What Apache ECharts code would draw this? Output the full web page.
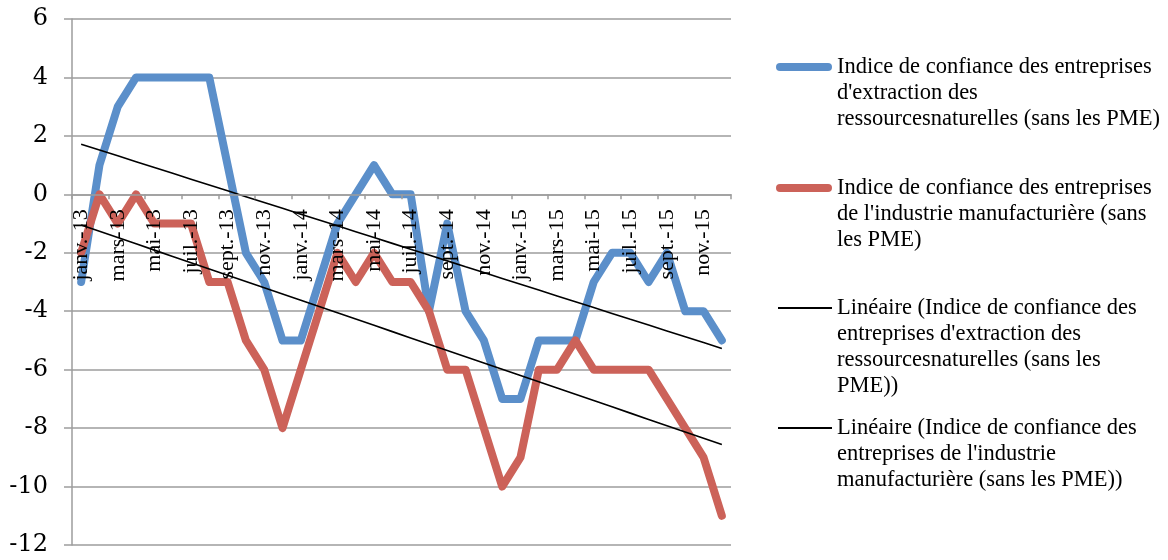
<!DOCTYPE html>
<html>
<head>
<meta charset="utf-8">
<script src="https://cdn.jsdelivr.net/npm/echarts@6/dist/echarts.min.js"></script>
<style>
  html, body { margin: 0; padding: 0; background: #fff; }
  #chart { width: 1168px; height: 560px; }
</style>
</head>
<body>
<div id="chart"></div>
<script>
const categories = [
  'janv.-13','févr.-13','mars-13','avr.-13','mai-13','juin-13','juil.-13','août-13','sept.-13','oct.-13','nov.-13','déc.-13',
  'janv.-14','févr.-14','mars-14','avr.-14','mai-14','juin-14','juil.-14','août-14','sept.-14','oct.-14','nov.-14','déc.-14',
  'janv.-15','févr.-15','mars-15','avr.-15','mai-15','juin-15','juil.-15','août-15','sept.-15','oct.-15','nov.-15','déc.-15'
];
const extraction = [
  -3, 1, 3, 4, 4, 4, 4, 4, 1, -2, -3, -5,
  -5, -3, -1, 0, 1, 0, 0, -4, -1, -4, -5, -7,
  -7, -5, -5, -5, -3, -2, -2, -3, -2, -4, -4, -5
];
const manufacturiere = [
  -2, 0, -1, 0, -1, -1, -1, -3, -3, -5, -6, -8,
  -6, -4, -2, -3, -2, -3, -3, -4, -6, -6, -8, -10,
  -9, -6, -6, -5, -6, -6, -6, -6, -7, -8, -9, -11
];
const yTicks = { min: -12, max: 6, interval: 2 };

const names = [
  "Indice de confiance des entreprises d'extraction des ressourcesnaturelles (sans les PME)",
  "Indice de confiance des entreprises de l'industrie manufacturière (sans les PME)",
  "Linéaire (Indice de confiance des entreprises d'extraction des ressourcesnaturelles (sans les PME))",
  "Linéaire (Indice de confiance des entreprises de l'industrie manufacturière (sans les PME))"
];
const legendLines = [
  ["Indice de confiance des entreprises", "d'extraction des", "ressourcesnaturelles (sans les PME)"],
  ["Indice de confiance des entreprises", "de l'industrie manufacturière (sans", "les PME)"],
  ["Linéaire (Indice de confiance des", "entreprises d'extraction des", "ressourcesnaturelles (sans les", "PME))"],
  ["Linéaire (Indice de confiance des", "entreprises de l'industrie", "manufacturière (sans les PME))"]
];

// Linear (least squares) trend of a series, evaluated at each category
function linearTrend(vals) {
  const n = vals.length;
  let sx = 0, sy = 0, sxx = 0, sxy = 0;
  vals.forEach((v, i) => { sx += i; sy += v; sxx += i * i; sxy += i * v; });
  const b = (n * sxy - sx * sy) / (n * sxx - sx * sx);
  const a = (sy - b * sx) / n;
  return vals.map((_, i) => +(a + b * i).toFixed(4));
}

const BLUE = '#5B8FCA';
const RED = '#CC6259';
const FONT = '"Liberation Serif", serif';
const LH = 26;
const iconCenters = [67, 188, 308, 428];

const GRID = { left: 72, right: 437, top: 19, bottom: 15 };
const gridHeight = 560 - GRID.top - GRID.bottom;
// the category axis crosses the value axis at 0
const zeroOffset = -gridHeight * (0 - yTicks.min) / (yTicks.max - yTicks.min);

const legends = names.map((nm, k) => {
  const n = legendLines[k].length;
  const thick = k < 2;
  // leading blank lines keep the first text line level with the icon
  const blank = new Array(n - 1).fill(' ');
  return {
    show: true,
    orient: 'vertical',
    left: thick ? 776 : 778,
    top: iconCenters[k] - (2 * n - 1) * LH / 2,
    padding: 0,
    selectedMode: false,
    data: [nm],
    icon: thick ? 'path://M4,0 L52,0 A4,4 0 0 1 52,8 L4,8 A4,4 0 0 1 4,0 Z' : 'rect',
    itemWidth: thick ? 56 : 54,
    itemHeight: thick ? 8 : 2,
    formatter: () => blank.concat(legendLines[k]).join('\n'),
    textStyle: {
      fontFamily: FONT,
      fontSize: 22.5,
      color: '#000',
      lineHeight: LH
    }
  };
});

const chart = echarts.init(document.getElementById('chart'), null, { renderer: 'canvas' });
chart.setOption({
  animation: false,
  backgroundColor: '#fff',
  grid: Object.assign({ containLabel: false, outerBoundsMode: 'none' }, GRID),
  legend: legends,
  xAxis: {
    type: 'category',
    data: categories,
    boundaryGap: true,
    position: 'bottom',
    offset: zeroOffset,
    z: 10,
    axisLine: { onZero: false, lineStyle: { color: '#9d9d9d', width: 1.5 } },
    axisTick: { show: true, interval: 1, length: 5, inside: false, lineStyle: { color: '#9d9d9d', width: 1.5 } },
    axisLabel: {
      interval: 1,
      rotate: 90,
      margin: 15,
      padding: [7, 0, 0, 0],
      fontFamily: FONT,
      fontSize: 22,
      color: '#000'
    },
    splitLine: { show: false }
  },
  yAxis: {
    type: 'value',
    min: yTicks.min,
    max: yTicks.max,
    interval: yTicks.interval,
    axisLine: { show: true, lineStyle: { color: '#9d9d9d', width: 1.5 } },
    axisTick: { show: true, length: 8, lineStyle: { color: '#9d9d9d', width: 1.5 } },
    axisLabel: {
      margin: 24,
      fontFamily: '"DejaVu Serif", serif',
      fontSize: 24,
      color: '#000'
    },
    splitLine: { show: true, lineStyle: { color: '#9d9d9d', width: 1.5 } }
  },
  series: [
    {
      name: names[0], type: 'line', data: extraction, symbol: 'none', z: 2,
      lineStyle: { color: BLUE, width: 8, cap: 'round', join: 'round' },
      itemStyle: { color: BLUE }
    },
    {
      name: names[1], type: 'line', data: manufacturiere, symbol: 'none', z: 3,
      lineStyle: { color: RED, width: 8, cap: 'round', join: 'round' },
      itemStyle: { color: RED }
    },
    {
      name: names[2], type: 'line', data: linearTrend(extraction), symbol: 'none', z: 4,
      lineStyle: { color: '#000', width: 1.6 },
      itemStyle: { color: '#000' }
    },
    {
      name: names[3], type: 'line', data: linearTrend(manufacturiere), symbol: 'none', z: 4,
      lineStyle: { color: '#000', width: 1.6 },
      itemStyle: { color: '#000' }
    }
  ]
});
</script>
</body>
</html>
